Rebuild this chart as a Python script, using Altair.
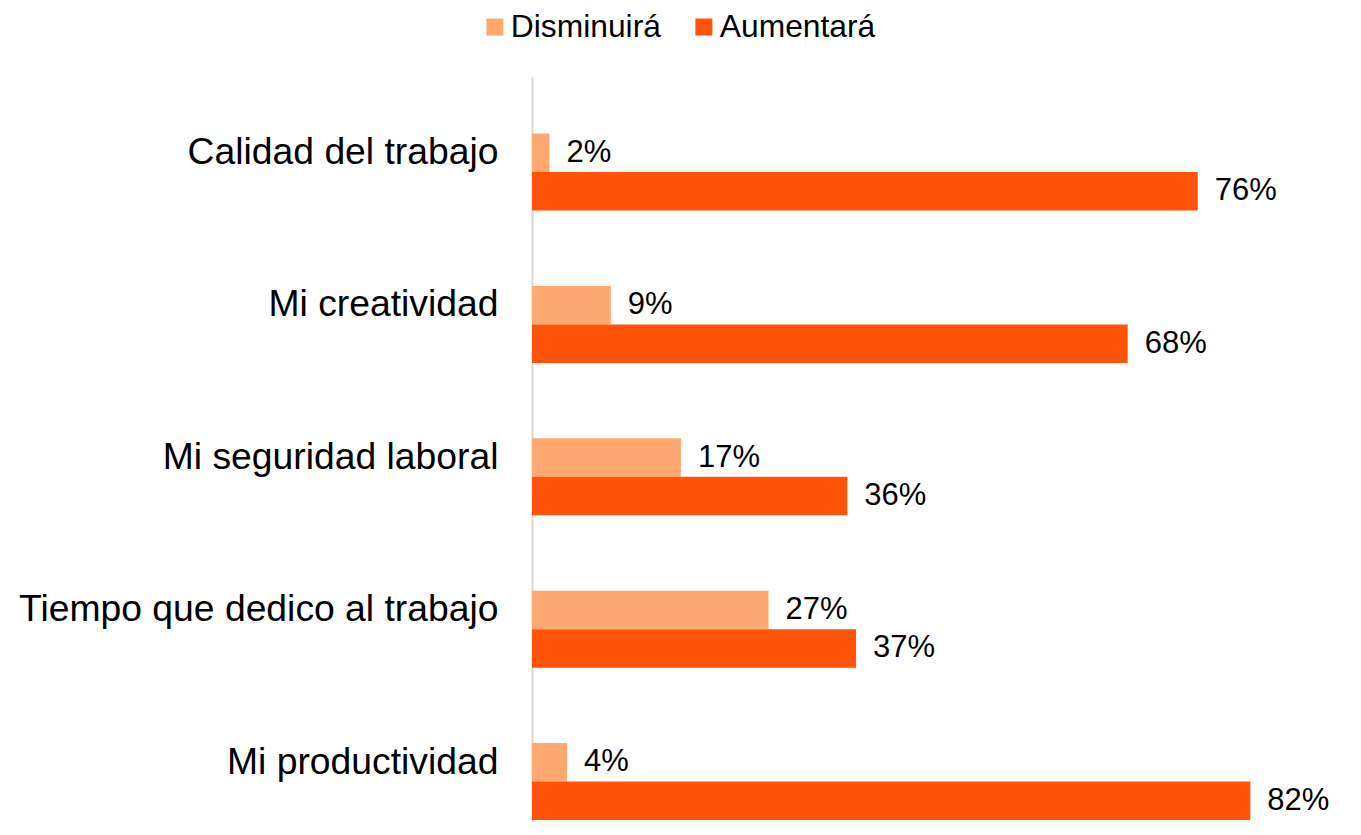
import altair as alt
import pandas as pd

categories = ["Calidad del trabajo", "Mi creatividad", "Mi seguridad laboral",
              "Tiempo que dedico al trabajo", "Mi productividad"]
series = ["Disminuirá", "Aumentará"]
disminuira = [2, 9, 17, 27, 4]
aumentara = [76, 68, 36, 37, 82]
colors = ["#FFA971", "#FF5309"]

rows = []
for c, d, a in zip(categories, disminuira, aumentara):
    rows.append({"cat": c, "serie": series[0], "val": d})
    rows.append({"cat": c, "serie": series[1], "val": a})
df = pd.DataFrame(rows)

FONT = "Liberation Sans"
W = 788.4
H = 745

base = alt.Chart(df).transform_calculate(
    label="datum.val + '%'"
).encode(
    y=alt.Y("cat:N", sort=categories,
            scale=alt.Scale(range=[0, 799.6], paddingInner=0, paddingOuter=0.1234),
            axis=alt.Axis(title=None, ticks=False, domain=True, domainColor="#d9d9d9",
                          domainWidth=2, grid=False,
                          labelFontSize=37.3, labelColor="#000000", labelPadding=34,
                          labelOffset=-19, labelLimit=700, labelFont=FONT)),
    yOffset=alt.YOffset("serie:N", sort=series,
                        scale=alt.Scale(paddingInner=0, paddingOuter=0.98)),
)

bars = base.mark_bar().encode(
    x=alt.X("val:Q", scale=alt.Scale(domain=[0, 90]), axis=None),
    color=alt.Color("serie:N", sort=series,
                    scale=alt.Scale(domain=series, range=colors),
                    legend=alt.Legend(title=None, orient="none", legendX=-53, legendY=-66,
                                      direction="horizontal", symbolType="square",
                                      symbolSize=289, symbolStrokeWidth=0,
                                      labelFontSize=31.8, labelFont=FONT, labelColor="#000000",
                                      labelOffset=0, columnPadding=27)),
)

text = base.mark_text(align="left", baseline="middle", dx=17, fontSize=31,
                      font=FONT, color="#000000").encode(
    x=alt.X("val:Q", scale=alt.Scale(domain=[0, 90]), axis=None),
    text="label:N",
)

chart = alt.layer(bars, text).properties(
    width=W, height=H,
    autosize=alt.AutoSizeParams(type="none"),
    padding={"left": 524, "top": 69, "right": 20, "bottom": 0},
    background="white",
).configure_view(stroke=None)

chart.save("out.html", embed_options={"renderer": "svg", "actions": False})
